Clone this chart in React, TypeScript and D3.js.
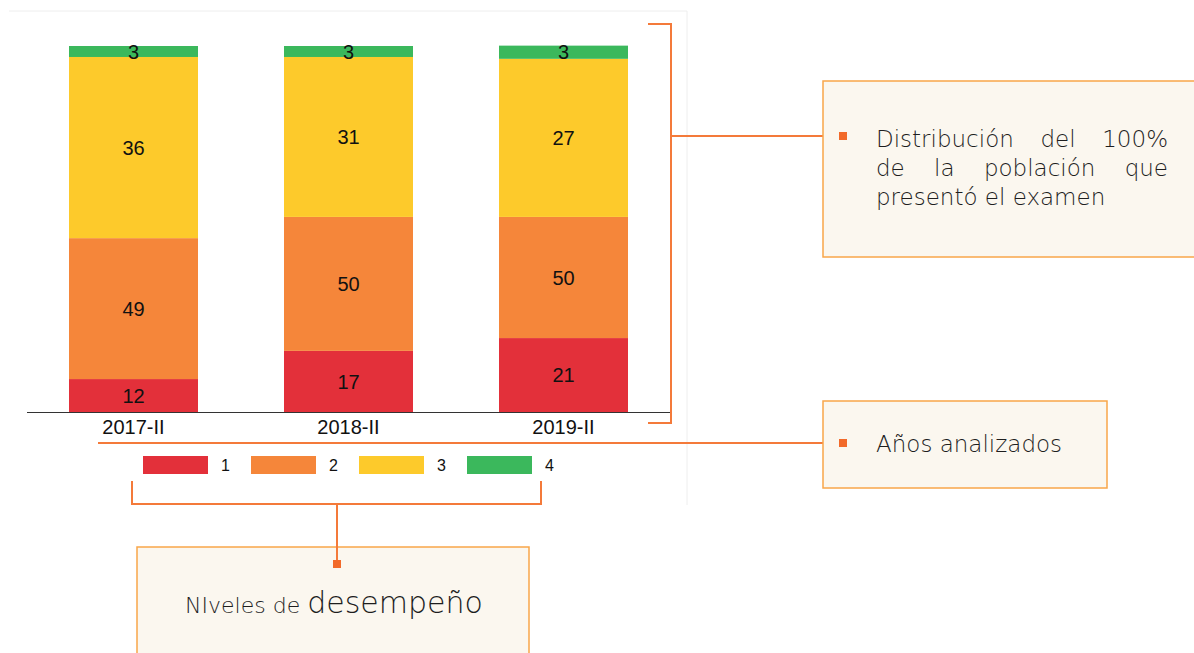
import React, { useLayoutEffect, useRef } from "react";
import { scaleBand, scaleLinear, select } from "d3";

// years analysed
const periods = ["2017-II", "2018-II", "2019-II"];
// performance levels, bottom to top
const levels = ["1", "2", "3", "4"];
// share of each level as drawn (percent of the bar)
const level1 = [9.0, 16.7, 20.2];
const level2 = [38.5, 36.6, 33.1];
const level3 = [49.5, 43.7, 43.2];
const level4 = [3.0, 3.0, 3.6];
// numbers printed on the segments
const level1Labels = ["12", "17", "21"];
const level2Labels = ["49", "50", "50"];
const level3Labels = ["36", "31", "27"];
const level4Labels = ["3", "3", "3"];

const levelColors = ["#e3303a", "#f5863a", "#fdca2b", "#3bb85c"];
const accent = "#f47a3a";
const boxStroke = "#f9a64a";
const boxFill = "#fbf7ef";
const boxFont = "'DejaVu Sans', 'Open Sans', sans-serif";
const boxInk = "#1e1e1e";

const JustifiedLine = ({ words, x0, x1, y }: { words: string[]; x0: number; x1: number; y: number }) => {
  const ref = useRef<SVGGElement>(null);
  useLayoutEffect(() => {
    const g = select(ref.current);
    const nodes = g.selectAll<SVGTextElement, unknown>("text").nodes();
    const widths = nodes.map(n => n.getComputedTextLength());
    const total = widths.reduce((a, b) => a + b, 0);
    const gap = (x1 - x0 - total) / (nodes.length - 1);
    let x = x0;
    nodes.forEach((n, i) => {
      n.setAttribute("x", String(x));
      x += widths[i] + gap;
    });
  }, [words, x0, x1]);
  return (
    <g ref={ref}>
      {words.map((w, i) => (
        <text key={i} x={x0} y={y} fontFamily={boxFont} fontWeight={200} fontSize={23} fill={boxInk}>
          {w}
        </text>
      ))}
    </g>
  );
};

const App = () => {
  const width = 1194;
  const height = 653;
  const baseY = 412;

  const x = scaleBand<string>().domain(periods).range([26, 671]).paddingInner(0.4).paddingOuter(0.2);
  const y = scaleLinear().domain([0, 100]).range([baseY, 46]);

  const series = [level1, level2, level3, level4];
  const labels = [level1Labels, level2Labels, level3Labels, level4Labels];

  const segments = periods.flatMap((p, i) => {
    let acc = 0;
    return series.map((s, k) => {
      const y0 = acc;
      acc += s[i];
      return { period: p, level: k, y0, y1: acc, label: labels[k][i] };
    });
  });

  const legendX = scaleBand<string>().domain(levels).range([143, 575]);

  return (
    <svg width={width} height={height} style={{ position: "absolute", left: 0, top: 0, background: "#fff" }}>
      {/* chart panel edges */}
      <line x1={9} x2={687} y1={11} y2={11} stroke="#eeeeee" />
      <line x1={687} x2={687} y1={11} y2={505} stroke="#eeeeee" />

      {segments.map((d, i) => (
        <rect
          key={i}
          x={x(d.period)}
          width={x.bandwidth()}
          y={y(d.y1)}
          height={y(d.y0) - y(d.y1)}
          fill={levelColors[d.level]}
        />
      ))}
      {segments.map((d, i) => (
        <text
          key={"l" + i}
          x={(x(d.period) ?? 0) + x.bandwidth() / 2}
          y={(y(d.y0) + y(d.y1)) / 2}
          dy="0.36em"
          textAnchor="middle"
          fontFamily="'Liberation Sans', Arial, sans-serif"
          fontSize={20}
          fill="#111"
        >
          {d.label}
        </text>
      ))}

      {/* category axis */}
      <line x1={x.range()[0] + 1} x2={x.range()[1] - 1} y1={baseY + 0.5} y2={baseY + 0.5} stroke="#333" strokeWidth={1.2} />
      {periods.map(p => (
        <text
          key={p}
          x={(x(p) ?? 0) + x.bandwidth() / 2}
          y={434}
          textAnchor="middle"
          fontFamily="'Liberation Sans', Arial, sans-serif"
          fontSize={20}
          fill="#111"
        >
          {p}
        </text>
      ))}

      {/* legend */}
      {levels.map((l, i) => (
        <g key={l} transform={`translate(${legendX(l)},456)`}>
          <rect width={65} height={18} fill={levelColors[i]} />
          <text x={78} y={15} fontFamily="'Liberation Sans', Arial, sans-serif" fontSize={16} fill="#111">
            {l}
          </text>
        </g>
      ))}

      {/* bracket: bars -> distribution */}
      <path d="M648,24 H671 V423 H648" fill="none" stroke={accent} strokeWidth={2} />
      <line x1={671} x2={843} y1={136} y2={136} stroke={accent} strokeWidth={2} />
      <rect x={823} y={81} width={400} height={176} fill={boxFill} stroke={boxStroke} strokeWidth={1.5} />
      <rect x={839} y={132} width={8} height={8} fill="#f26a2a" />
      <JustifiedLine words={["Distribución", "del", "100%"]} x0={876} x1={1168} y={147} />
      <JustifiedLine words={["de", "la", "población", "que"]} x0={876} x1={1168} y={176} />
      <text x={876} y={205} fontFamily={boxFont} fontWeight={200} fontSize={23} fill={boxInk}>
        presentó el examen
      </text>

      {/* years line */}
      <line x1={98} x2={843} y1={443} y2={443} stroke={accent} strokeWidth={2} />
      <rect x={823} y={401} width={284} height={87} fill={boxFill} stroke={boxStroke} strokeWidth={1.5} />
      <rect x={839} y={439} width={8} height={8} fill="#f26a2a" />
      <text x={876} y={452} fontFamily={boxFont} fontWeight={200} fontSize={23} fill={boxInk}>
        Años analizados
      </text>

      {/* bracket: legend -> levels */}
      <path d="M132,481 V504 H541 V481" fill="none" stroke={accent} strokeWidth={2} />
      <rect x={137} y={547} width={392} height={120} fill={boxFill} stroke={boxStroke} strokeWidth={1.5} />
      <line x1={337} x2={337} y1={504} y2={564} stroke={accent} strokeWidth={2} />
      <rect x={333} y={560} width={8} height={8} fill="#f26a2a" />
      <text x={334} y={613} textAnchor="middle" fontFamily={boxFont} fontWeight={200} fill={boxInk}>
        <tspan fontSize={22}>NIveles de </tspan>
        <tspan fontSize={30}>desempeño</tspan>
      </text>
    </svg>
  );
};

export default App;
